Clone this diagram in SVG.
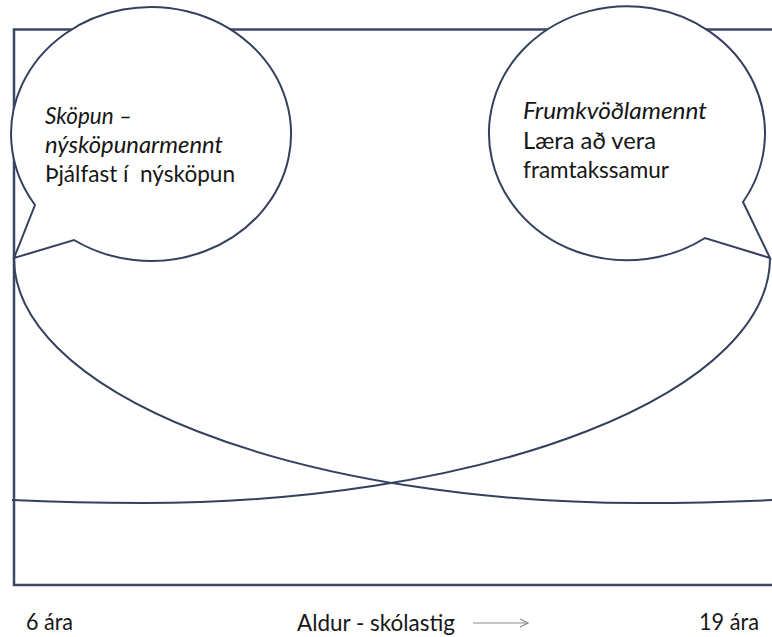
<svg xmlns="http://www.w3.org/2000/svg" width="772" height="637" viewBox="0 0 772 637">
  <style>
    .ln { fill: none; stroke: #34415e; stroke-width: 2; stroke-linejoin: round; }
    .frame { fill: none; stroke: #3a4865; stroke-width: 2.5; }
    .bubble { fill: #ffffff; stroke: #34415e; stroke-width: 2; stroke-linejoin: miter; }
    .t { font-family: Lato, "Open Sans", "Liberation Sans", sans-serif; font-size: 23px; fill: #161616; white-space: pre; }
    .it { font-style: italic; }
    .ax { font-family: Lato, "Open Sans", "Liberation Sans", sans-serif; font-size: 22.5px; fill: #161616; white-space: pre; }
  </style>
  <defs>
    <marker id="openArrow" markerWidth="12" markerHeight="10" refX="10" refY="5" orient="auto" markerUnits="userSpaceOnUse">
      <path d="M2,1 L10,5 L2,9" fill="none" stroke="#8c8c8c" stroke-width="1.2"/>
    </marker>
  </defs>
  <rect width="772" height="637" fill="#ffffff"/>

  <g id="frame">
    <path class="frame" d="M790,29.5 H14 V585 H790"/>
  </g>

  <g id="connectors">
    <path class="ln" d="M14,258 A626,245 0 0 0 640,503 Q710,503 774,500"/>
    <path class="ln" d="M770,258 A626,245 0 0 1 144,503 Q74,503 12,500"/>
  </g>

  <g id="bubble-skopun">
    <path class="bubble" d="M35,205 L14,258 L74,240 A140,127 0 1 0 35,205 Z"/>
    <text class="t it" x="45" y="124" textLength="87" lengthAdjust="spacingAndGlyphs">Sköpun –</text>
    <text class="t it" x="45" y="153" textLength="178" lengthAdjust="spacingAndGlyphs">nýsköpunarmennt</text>
    <text class="t" x="45" y="182" textLength="190" lengthAdjust="spacingAndGlyphs" xml:space="preserve">Þjálfast í  nýsköpun</text>
  </g>

  <g id="bubble-frumkvodlamennt">
    <path class="bubble" d="M743,202 L770,258 L705,238 A138,127 0 1 1 743,202 Z"/>
    <text class="t it" x="523" y="119" textLength="184" lengthAdjust="spacingAndGlyphs">Frumkvöðlamennt</text>
    <text class="t" x="523" y="149" textLength="133" lengthAdjust="spacingAndGlyphs">Læra að vera</text>
    <text class="t" x="523" y="178" textLength="146" lengthAdjust="spacingAndGlyphs">framtakssamur</text>
  </g>

  <g id="axis-labels">
    <text class="ax" x="26" y="630" textLength="47" lengthAdjust="spacingAndGlyphs">6 ára</text>
    <text class="ax" x="297" y="631" textLength="158" lengthAdjust="spacingAndGlyphs">Aldur - skólastig</text>
    <line x1="473" y1="623" x2="528" y2="623" stroke="#8c8c8c" stroke-width="1.2" marker-end="url(#openArrow)"/>
    <text class="ax" x="699" y="630" textLength="60" lengthAdjust="spacingAndGlyphs">19 ára</text>
  </g>
</svg>
